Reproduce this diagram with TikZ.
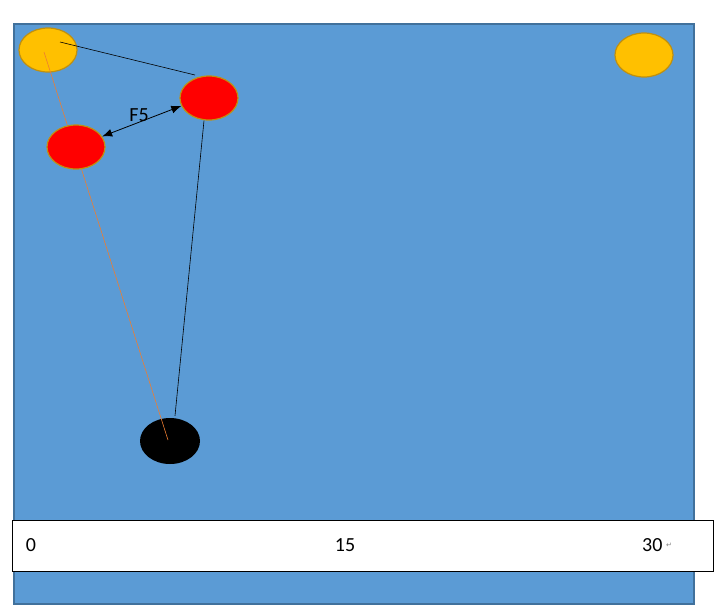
\documentclass[tikz,border=0pt]{standalone}
\usepackage{fontspec}
\setmainfont{Carlito}
\newfontfamily\symfont{DejaVu Sans}
\usetikzlibrary{shapes.geometric,arrows.meta}
\definecolor{fieldblue}{HTML}{5B9BD5}
\definecolor{fieldedge}{HTML}{41719C}
\definecolor{ballyellow}{HTML}{FFC000}
\definecolor{balledge}{HTML}{C0900F}
\definecolor{passline}{HTML}{ED7D31}
\begin{document}
\begin{tikzpicture}[
  x=1pt, y=-1pt,
  every node/.style={font=\fontsize{20}{24}\selectfont},
  ball/.style={draw=balledge, line width=1.2pt, ellipse, minimum width=58pt, minimum height=44pt, inner sep=0pt},
  yball/.style={ball, fill=ballyellow},
  rball/.style={ball, fill=red},
  kball/.style={ellipse, fill=black, minimum width=60pt, minimum height=46pt, inner sep=0pt}
]
\useasboundingbox (0,0) rectangle (726,614);

% field
\draw[fieldedge, fill=fieldblue, line width=1.2pt] (14,24) rectangle (694,604);

% balls
\node[yball] (y1) at (48,50) {};
\node[yball] (y2) at (644,55) {};
\node[kball] (k) at (170,441) {};

% lines
\coordinate (y1a) at (60,42);
\coordinate (y1b) at (44,52);
\draw[passline, line width=0.6pt] (y1b) -- ([shift={(-2,-1)}]k.center);
\draw[line width=0.6pt] (y1a) -- (195,75) coordinate (r1top);

\node[rball] (r1) at (209,98) {};
\node[rball] (r2) at (76,147) {};
\draw[line width=0.6pt] ([shift={(-5,0)}]r1.south) -- ([shift={(5,-2)}]k.north);

\draw[{Latex[length=10pt,width=8pt]}-{Latex[length=10pt,width=8pt]}, line width=0.8pt] (r2.22) -- (r1.196);
\node (f5) at (139,115) {F5};

% scale bar
\draw[fill=white, line width=0.8pt] (12,520) rectangle (713,571);
\node (s0) at (31,545) {0};
\node (s15) at (345,545) {15};
\node[anchor=east] (s30) at (666,545) {30};
\node[anchor=west, inner sep=0pt, text=gray, font=\symfont\fontsize{7}{8}\selectfont] (ret) at (s30.east) {↵};
\end{tikzpicture}
\end{document}
